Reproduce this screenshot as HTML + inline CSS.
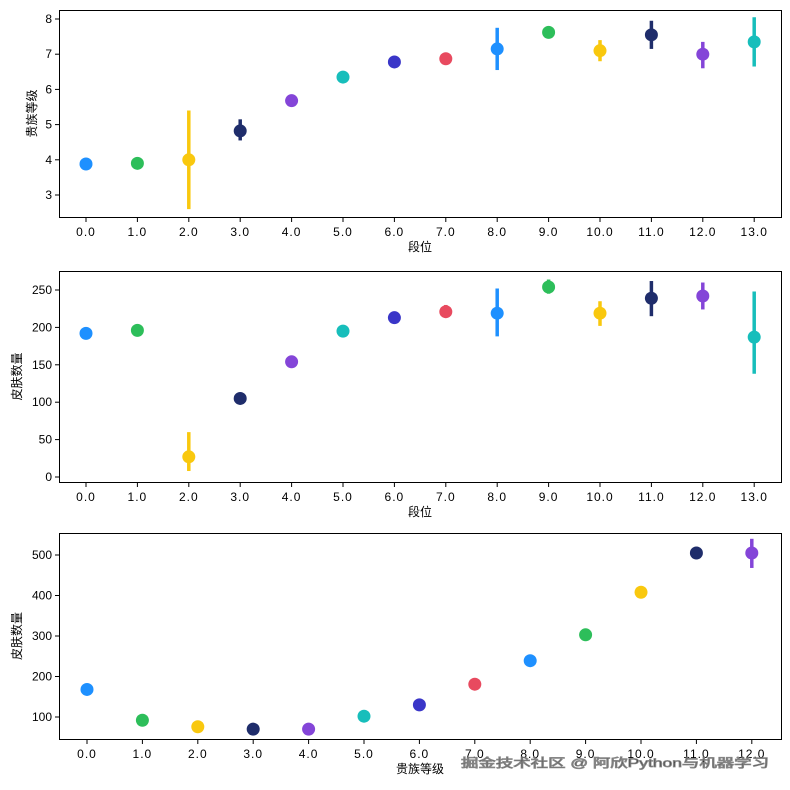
<!DOCTYPE html><html><head><meta charset="utf-8"><style>body{margin:0;background:#fff}svg{display:block}text{font-family:"Liberation Sans","Noto Sans CJK SC",sans-serif;font-size:12px;fill:#000}</style></head><body>
<svg id="s" width="790" height="790" xmlns="http://www.w3.org/2000/svg"></svg>
<script>
const C=["#1e90ff","#2dbe5a","#f9c80e","#1f2d6b","#8445d8","#17bebb","#3a36c8","#e84a5f"];
const P=[
{t:10,b:217,x0:86,dx:51.4,n:14,lx:36,y:v=>195-(v-3)*35.2,ticks:[3,4,5,6,7,8],yl:"贵族等级",xl:"段位",
d:[[3.88,3.8,4.0],[3.9,3.8,4.05],[4.0,2.6,5.4],[4.82,4.55,5.15],[5.68],[6.35],[6.78],[6.87,6.75,7.0],[7.15,6.55,7.75],[7.62,7.5,7.75],[7.1,6.8,7.4],[7.55,7.15,7.95],[7.0,6.6,7.35],[7.35,6.65,8.05]]},
{t:271,b:482,x0:86,dx:51.4,n:14,lx:21,y:v=>477-v*0.748,ticks:[0,50,100,150,200,250],yl:"皮肤数量",xl:"段位",
d:[[192],[196],[27,8,60],[105,97,113],[154],[195],[213],[221,213,230],[219,188,252],[254,245,264],[219,202,235],[239,215,262],[242,224,260],[187,138,248]]},
{t:533,b:739,x0:87,dx:55.4,n:13,lx:21,y:v=>555+(500-v)*0.405,ticks:[100,200,300,400,500],yl:"皮肤数量",xl:"贵族等级",
d:[[168],[92,85,103],[76],[70],[70],[102],[130],[181],[239],[303],[408],[505,490,520],[505,468,540]]}];
let h="";
P.forEach(p=>{
h+=`<rect x="59.5" y="${p.t+.5}" width="722" height="${p.b-p.t}" fill="none" stroke="#000" stroke-width="1"/>`;
p.ticks.forEach(v=>{const y=p.y(v);h+=`<line x1="55" x2="59.5" y1="${y}" y2="${y}" stroke="#000"/><text x="52" y="${y+4}" text-anchor="end">${v}</text>`});
for(let i=0;i<p.n;i++){const x=p.x0+i*p.dx;h+=`<line x1="${x}" x2="${x}" y1="${p.b+.5}" y2="${p.b+5}" stroke="#000"/><text x="${x}" y="${p.b+19}" text-anchor="middle" letter-spacing="1">${i}.0</text>`;
const d=p.d[i],c=C[i%8];if(d.length>1)h+=`<line x1="${x}" x2="${x}" y1="${p.y(d[1])}" y2="${p.y(d[2])}" stroke="${c}" stroke-width="3.5"/>`;
h+=`<circle cx="${x}" cy="${p.y(d[0])}" r="6.5" fill="${c}"/>`;}
h+=`<text x="420" y="${p.b+34}" text-anchor="middle">${p.xl}</text>`;
const cy=(p.t+p.b)/2;h+=`<text transform="translate(${p.lx},${cy}) rotate(-90)" text-anchor="middle" font-size="13">${p.yl}</text>`;
});
h+=`<text x="461" y="767" font-size="18" textLength="308" lengthAdjust="spacingAndGlyphs" fill="#fff" stroke="#777" stroke-width="0.8" opacity="0.9">掘金技术社区 @ 阿欣Python与机器学习</text>`;
document.getElementById("s").innerHTML=h;
</script></body></html>
